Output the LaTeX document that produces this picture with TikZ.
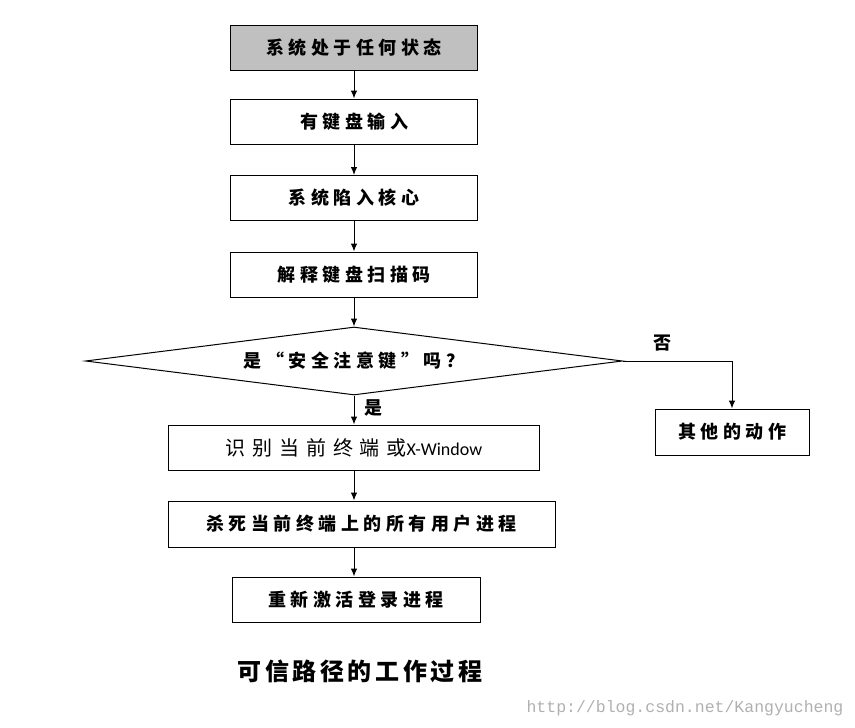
\documentclass[tikz,border=0pt]{standalone}
\usepackage{fontspec}
\usetikzlibrary{positioning}
\usetikzlibrary{shapes.geometric}
\usetikzlibrary{arrows.meta}
\newfontfamily\cjk[LetterSpace=25]{Noto Sans CJK SC}
\newfontfamily\cjkplain[LetterSpace=34]{Noto Sans CJK SC}
\newfontfamily\latin{Carlito}
\newfontfamily\urlfont{Liberation Mono}
\definecolor{box-gray}{HTML}{C0C0C0}
\definecolor{mark-gray}{HTML}{B0B0B0}

\begin{document}
\begin{tikzpicture}[x=1pt, y=-1pt, line width=1pt, >={Latex[length=8pt, width=6.5pt]},
  font=\cjk\bfseries\fontsize{18}{21}\selectfont,
  stepbox/.style={draw, minimum width=247pt, minimum height=45pt, inner sep=0pt}]
\useasboundingbox (0, 0) rectangle (855, 728);

\node[stepbox, fill=box-gray] (start) at (354, 47.5) {系统处于任何状态};

\node[stepbox] (key) at (354, 121.5) {有键盘输入}
edge[<-] (start);

\node[stepbox] (trap) at (354, 198) {系统陷入核心}
edge[<-] (key);

\node[stepbox] (scan) at (354, 274.5) {解释键盘扫描码}
edge[<-] (trap);

\node[draw, diamond, aspect=7.9, minimum width=537pt, minimum height=68pt, inner sep=0pt] (check) at (354, 361) {是“安全注意键”吗？}
edge[<-] (scan);

\node[stepbox, minimum width=371pt] (ident) at (354, 447.5) {\cjkplain\mdseries\fontsize{20}{23}\selectfont 识别当前终端或{\latin\fontsize{18}{21}\selectfont X-Window}}
edge[<-] (check);
\node (yes) at (373, 408) {是};

\node[stepbox, minimum width=154pt, minimum height=46pt] (other) at (732, 432) {其他的动作};
\draw[->] (check.east) -| (other);
\node (no) at (662, 343) {否};

\node[stepbox, minimum width=387pt, minimum height=46pt] (kill) at (361.5, 524) {杀死当前终端上的所有用户进程};
\draw[->] (ident) -- (ident |- kill.north);

\node[stepbox, minimum width=248pt] (restart) at (356, 599.5) {重新激活登录进程};
\draw[->] (kill.south -| ident) -- (restart.north -| ident);

\node[font=\cjk\bfseries\fontsize{24}{28}\selectfont\addfontfeature{LetterSpace=15}] (title) at (360, 671) {可信路径的工作过程};
\node[font=\urlfont\fontsize{16.5}{18}\selectfont, text=mark-gray] (mark) at (685, 708) {http://blog.csdn.net/Kangyucheng};
\end{tikzpicture}
\end{document}
